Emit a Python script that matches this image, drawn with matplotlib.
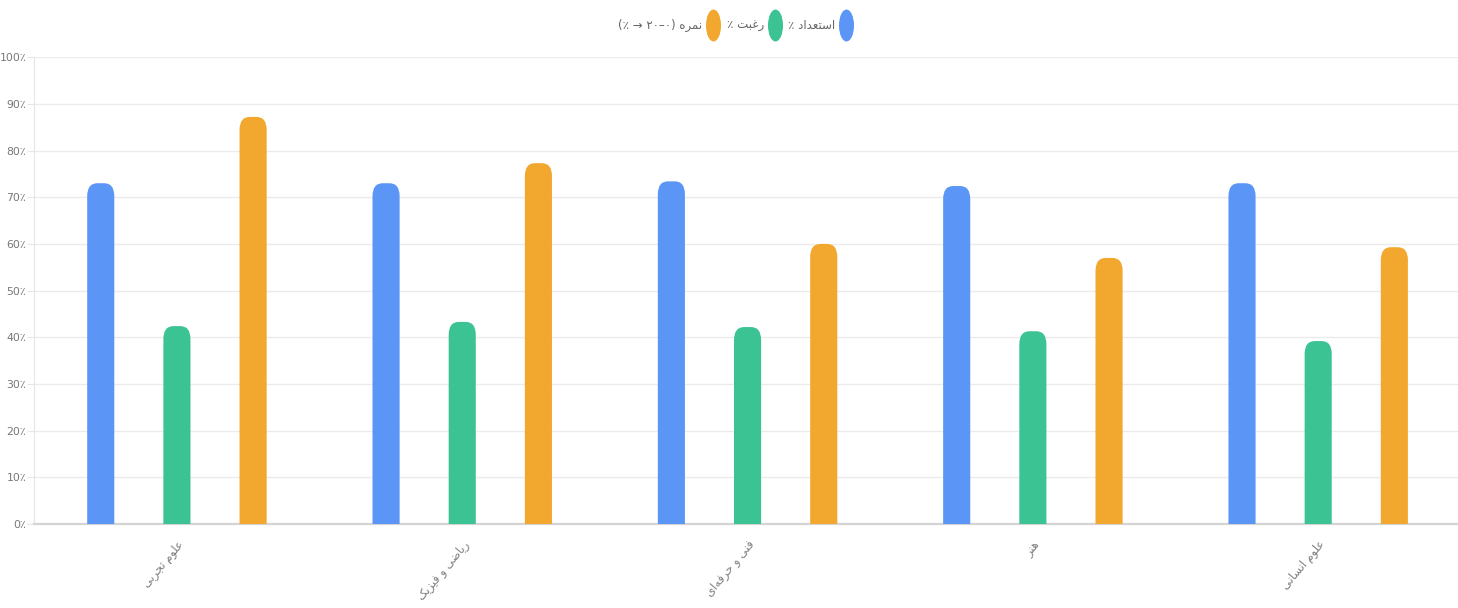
import matplotlib
matplotlib.use("Agg")
import matplotlib.pyplot as plt
from matplotlib.patches import FancyBboxPatch
from matplotlib.lines import Line2D
from matplotlib.path import Path
from matplotlib.transforms import Affine2D

# data
categories = ["علوم تجربی", "ریاضی و فیزیک", "فنی و حرفه‌ای", "هنر", "علوم انسانی"]
talent = [73.0, 73.0, 73.4, 72.4, 73.0]
interest = [42.4, 43.3, 42.2, 41.3, 39.2]
grade = [87.2, 77.3, 60.0, 57.0, 59.3]
series_names = ["استعداد", "رغبت", "نمره"]
y_ticks = [0, 10, 20, 30, 40, 50, 60, 70, 80, 90, 100]

colors = ["#5B95F5", "#3CC393", "#F2A82F"]

# contextual forms: isolated, final, initial, medial (2 entries = joins only to the right)
FORMS = {
    "ا": "\uFE8D\uFE8E", "د": "\uFEA9\uFEAA", "ر": "\uFEAD\uFEAE",
    "ز": "\uFEAF\uFEB0", "و": "\uFEED\uFEEE",
    "ب": "\uFE8F\uFE90\uFE91\uFE92", "ت": "\uFE95\uFE96\uFE97\uFE98",
    "ج": "\uFE9D\uFE9E\uFE9F\uFEA0", "ح": "\uFEA1\uFEA2\uFEA3\uFEA4",
    "س": "\uFEB1\uFEB2\uFEB3\uFEB4", "ض": "\uFEBD\uFEBE\uFEBF\uFEC0",
    "ع": "\uFEC9\uFECA\uFECB\uFECC", "غ": "\uFECD\uFECE\uFECF\uFED0",
    "ف": "\uFED1\uFED2\uFED3\uFED4", "ل": "\uFEDD\uFEDE\uFEDF\uFEE0",
    "م": "\uFEE1\uFEE2\uFEE3\uFEE4", "ن": "\uFEE5\uFEE6\uFEE7\uFEE8",
    "ه": "\uFEE9\uFEEA\uFEEB\uFEEC", "ی": "\uFEEF\uFEF0\uFEF3\uFEF4",
    "ک": "\uFB8E\uFB8F\uFB90\uFB91",
}


def shape(text):
    out = []
    for i, ch in enumerate(text):
        if ch not in FORMS:
            if ch != "\u200c":
                out.append(ch)
            continue
        f = FORMS[ch]
        prev = text[i - 1] if i > 0 else ""
        nxt = text[i + 1] if i + 1 < len(text) else ""
        link_prev = prev in FORMS and len(FORMS[prev]) == 4
        link_next = len(f) == 4 and nxt in FORMS
        if link_prev and link_next:
            out.append(f[3])
        elif link_prev:
            out.append(f[1])
        elif link_next:
            out.append(f[2])
        else:
            out.append(f[0])
    return "".join(out)[::-1]


plt.rcParams['font.family'] = ['DejaVu Sans']

fig = plt.figure(figsize=(14.58, 6.08), dpi=100)
ax = fig.add_axes([0.0235, 0.138, 0.9765, 0.768])
ax.set_xlim(-0.5, 4.49)
ax.set_ylim(0, 100)

bbox = ax.get_window_extent()
aspect = (100 / bbox.height) / (4.99 / bbox.width) * 1.25

bar_w = 0.095
offsets = [-0.267, 0.0, 0.267]
radius = 0.036
for k, vals in enumerate([talent, interest, grade]):
    for i, v in enumerate(vals):
        x = i + offsets[k]
        low = -radius * aspect
        patch = FancyBboxPatch((x - bar_w / 2, low), bar_w, v - low,
                               boxstyle=f"round,pad=0,rounding_size={radius}",
                               mutation_aspect=aspect, facecolor=colors[k],
                               edgecolor="none", zorder=3)
        ax.add_patch(patch)

ax.set_yticks(y_ticks)
ax.set_yticklabels([f"{t}٪" for t in y_ticks], color="#777777", fontsize=7.8)
ax.set_xticks(range(len(categories)))
ax.set_xticklabels([shape(c) for c in categories], rotation=50, ha="right",
                   rotation_mode="anchor", color="#808080", fontsize=8.3)
ax.tick_params(axis="y", length=5, color="#e6e6e6", pad=1)
ax.tick_params(axis="x", length=0, pad=10)
ax.grid(axis="y", color="#ebebeb", linewidth=1, zorder=0)
ax.set_axisbelow(True)
for side in ["top", "right"]:
    ax.spines[side].set_visible(False)
ax.spines["left"].set_color("#e6e6e6")
ax.spines["bottom"].set_color("#d4d4d4")
ax.spines["bottom"].set_linewidth(1.6)

ellipse = Path.unit_circle().transformed(Affine2D().scale(0.47, 1.0))
labels = [
    "(٪ → ۲۰–۰) " + shape(series_names[2]),
    "٪ " + shape(series_names[1]),
    "٪ " + shape(series_names[0]),
]
handles = [Line2D([], [], linestyle="none", marker=ellipse, markersize=23,
                  markerfacecolor=c, markeredgecolor="none")
           for c in [colors[2], colors[1], colors[0]]]
fig.legend(handles, labels, loc="center", bbox_to_anchor=(0.504, 0.958), ncol=3,
           frameon=False, markerfirst=False, fontsize=8.5, labelcolor="#666666",
           handletextpad=0.45, columnspacing=0.7, handlelength=0.9)

fig.savefig("out.png", dpi=100)
